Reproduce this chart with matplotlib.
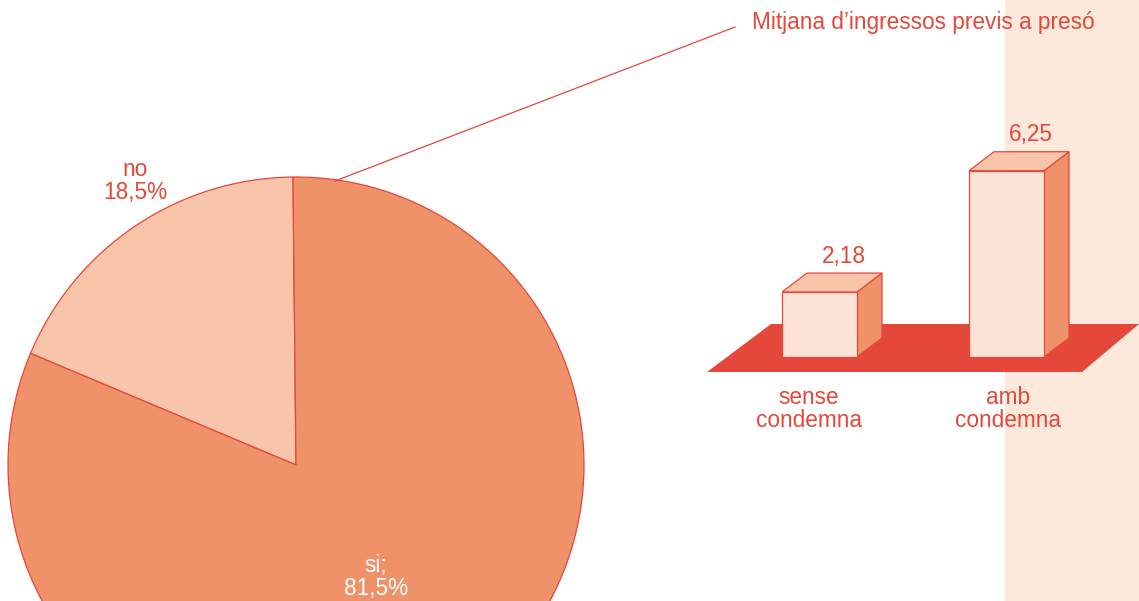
import matplotlib
matplotlib.use("Agg")
import matplotlib.pyplot as plt
from matplotlib.patches import Polygon, Rectangle

# ---- data ----
pie_labels = ["no", "si;"]
pie_values = [18.5, 81.5]
pie_texts = ["no\n18,5%", "si;\n81,5%"]
bar_categories = ["sense\ncondemna", "amb\ncondemna"]
bar_values = [2.18, 6.25]
bar_value_texts = ["2,18", "6,25"]
title = "Mitjana d\u2019ingressos previs a presó"

# ---- style ----
RED = "#E5473A"
SALMON = "#EF9169"
LIGHT = "#F8C5AA"
FRONT = "#FDE3D5"
BAND = "#FDE8DC"
FS = 16.3
plt.rcParams['font.family'] = ['Liberation Sans', 'DejaVu Sans']

W, H = 1139, 601
fig = plt.figure(figsize=(W / 100, H / 100), dpi=100)
ax = fig.add_axes([0, 0, 1, 1])

def Y(py):
    return H - py

# background band
ax.add_patch(Rectangle((1005, 0), W - 1005, H, facecolor=BAND, edgecolor='none', zorder=0))

# ---- pie ----
cx, cy, r = 296, Y(465), 288
wedges, _ = ax.pie(pie_values, colors=[LIGHT, SALMON], startangle=90.6, counterclock=True,
                   center=(cx, cy), radius=r, frame=True,
                   wedgeprops=dict(edgecolor=RED, linewidth=0.9))
for w in wedges:
    w.set_zorder(2)
ax.text(135, Y(181), pie_texts[0], ha='center', va='center', color=RED,
        fontsize=FS, linespacing=1.05, zorder=5)
ax.text(376, Y(577), pie_texts[1], ha='center', va='center', color='white',
        fontsize=FS, linespacing=1.05, zorder=5)

# leader line and title
ax.plot([335, 735], [Y(181), Y(27)], color=RED, lw=0.9, zorder=4)
ax.text(752, Y(22), title, ha='left', va='center', color=RED, fontsize=FS, zorder=5)

# ---- 3D bars ----
floor = [(707, Y(372)), (1082, Y(372)), (1139, Y(324)), (771, Y(324))]
ax.add_patch(Polygon(floor, closed=True, facecolor=RED, edgecolor='none', zorder=3))

base = Y(357)
scale = 29.8        # px per unit
bw = 75
dx, dy = 25, 19
lefts = [782, 969]
for left, v, vt, cat in zip(lefts, bar_values, bar_value_texts, bar_categories):
    h = v * scale
    top = base + h
    ekw = dict(edgecolor=RED, linewidth=0.9, joinstyle='miter', zorder=4)
    ax.add_patch(Polygon([(left + bw, base), (left + bw + dx, base + dy),
                          (left + bw + dx, top + dy), (left + bw, top)],
                         facecolor=SALMON, **ekw))
    ax.add_patch(Polygon([(left, top), (left + bw, top), (left + bw + dx, top + dy),
                          (left + dx, top + dy)], facecolor=LIGHT, **ekw))
    ax.add_patch(Rectangle((left, base), bw, h, facecolor=FRONT, **ekw))
    ax.text(left + bw / 2 + 24, top + dy + 17, vt, ha='center', va='center',
            color=RED, fontsize=FS, zorder=5)

ax.text(809, Y(409), bar_categories[0], ha='center', va='center', color=RED,
        fontsize=FS, linespacing=1.05, zorder=5)
ax.text(1008, Y(409), bar_categories[1], ha='center', va='center', color=RED,
        fontsize=FS, linespacing=1.05, zorder=5)

ax.set_xlim(0, W)
ax.set_ylim(0, H)
ax.set_aspect('auto')
ax.axis('off')
fig.savefig("out.png", dpi=100)
